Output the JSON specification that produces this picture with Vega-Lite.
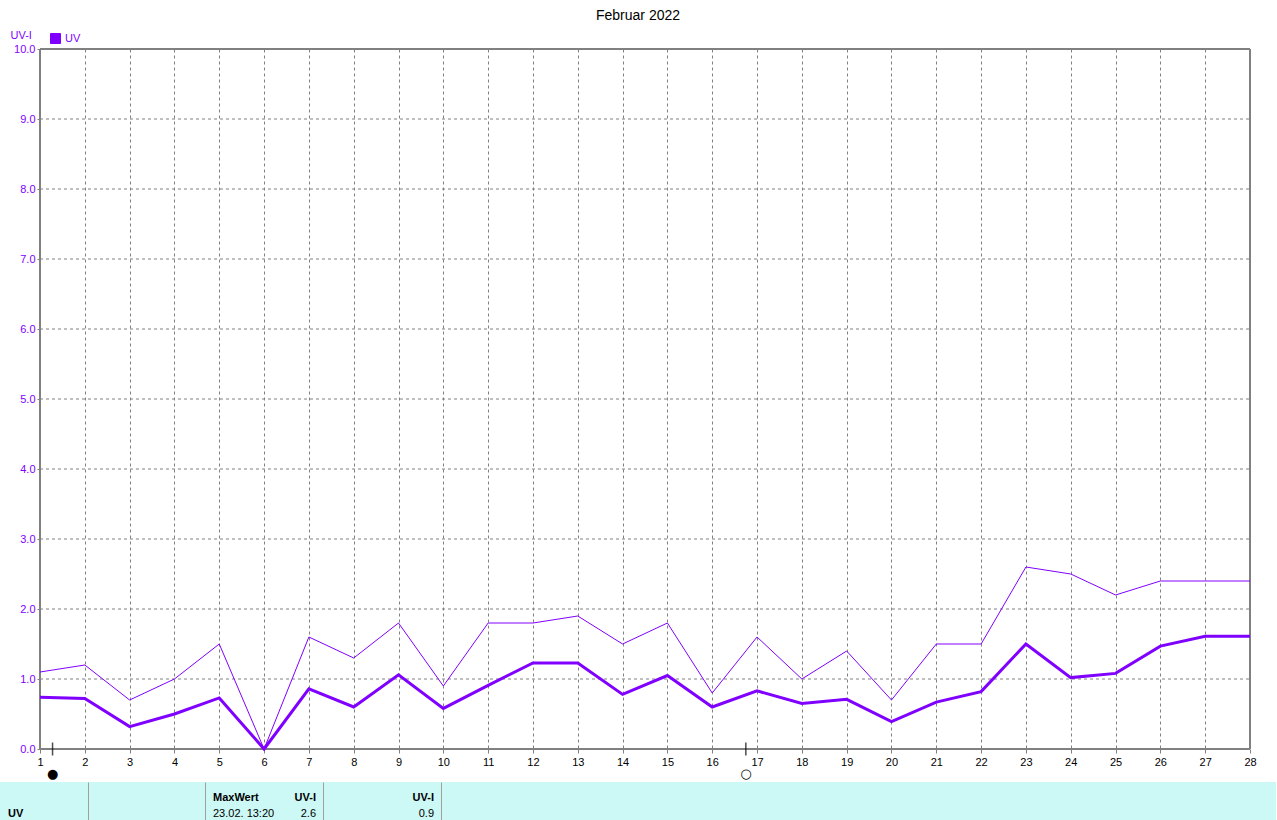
{
  "$schema": "https://vega.github.io/schema/vega-lite/v6.json",
  "padding": {"left": 0, "right": 0, "top": 9, "bottom": 0},
  "background": "white",
  "title": {"text": "Februar 2022", "fontSize": 14, "fontWeight": "normal", "font": "Liberation Sans", "color": "black", "anchor": "middle", "offset": 6},
  "spacing": 1,
  "config": {
    "font": "Liberation Sans",
    "view": {"stroke": null},
    "axisBottom": {"grid": true, "gridColor": "#808080", "gridDash": [3, 3], "gridOpacity": 1, "gridWidth": 1, "domain": false, "tickColor": "#808080", "tickSize": 4, "tickWidth": 1, "labelColor": "#000000", "labelFontSize": 11, "labelFont": "Liberation Sans", "labelPadding": 3, "labelFlush": false, "labelOverlap": false},
    "axisLeft": {"grid": false, "domain": false, "tickColor": "#808080", "tickSize": 3, "tickWidth": 1, "labelColor": "#8000ff", "labelFontSize": 11, "labelFont": "Liberation Sans", "labelPadding": 2, "labelFlush": false, "labelOverlap": false, "titleColor": "#8000ff", "titleFont": "Liberation Sans", "titleFontSize": 11, "titleFontWeight": "normal", "titleAngle": 0, "titleAlign": "left", "titleBaseline": "alphabetic", "titleX": -30, "titleY": -11},
    "axisRight": {"labels": false, "ticks": false, "grid": false, "domain": true, "domainColor": "#a0a0a0", "domainWidth": 1}
  },
  "datasets": {
    "uv": [
      {"day": 1, "max": 1.1, "mean": 0.74},
      {"day": 2, "max": 1.2, "mean": 0.72},
      {"day": 3, "max": 0.7, "mean": 0.32},
      {"day": 4, "max": 1.0, "mean": 0.5},
      {"day": 5, "max": 1.5, "mean": 0.73},
      {"day": 6, "max": 0.0, "mean": 0.0},
      {"day": 7, "max": 1.6, "mean": 0.86},
      {"day": 8, "max": 1.3, "mean": 0.6},
      {"day": 9, "max": 1.8, "mean": 1.06},
      {"day": 10, "max": 0.9, "mean": 0.58},
      {"day": 11, "max": 1.8, "mean": 0.91},
      {"day": 12, "max": 1.8, "mean": 1.23},
      {"day": 13, "max": 1.9, "mean": 1.23},
      {"day": 14, "max": 1.5, "mean": 0.78},
      {"day": 15, "max": 1.8, "mean": 1.05},
      {"day": 16, "max": 0.8, "mean": 0.6},
      {"day": 17, "max": 1.6, "mean": 0.83},
      {"day": 18, "max": 1.0, "mean": 0.65},
      {"day": 19, "max": 1.4, "mean": 0.71},
      {"day": 20, "max": 0.7, "mean": 0.39},
      {"day": 21, "max": 1.5, "mean": 0.67},
      {"day": 22, "max": 1.5, "mean": 0.82},
      {"day": 23, "max": 2.6, "mean": 1.5},
      {"day": 24, "max": 2.5, "mean": 1.02},
      {"day": 25, "max": 2.2, "mean": 1.08},
      {"day": 26, "max": 2.4, "mean": 1.47},
      {"day": 27, "max": 2.4, "mean": 1.61},
      {"day": 28, "max": 2.4, "mean": 1.61}
    ],
    "ygrid": [{"v": 1}, {"v": 2}, {"v": 3}, {"v": 4}, {"v": 5}, {"v": 6}, {"v": 7}, {"v": 8}, {"v": 9}],
    "hframe": [{"v": 0}, {"v": 10}],
    "vframe": [{"d": 1}, {"d": 28}],
    "moon": [{"day": 1.28, "sym": "●"}, {"day": 16.75, "sym": "○"}],
    "table": [
      {"cell": 1, "row": "bottom", "col": "left", "kind": "label", "text": "UV"},
      {"cell": 3, "row": "top", "col": "left", "kind": "label", "text": "MaxWert"},
      {"cell": 3, "row": "bottom", "col": "left", "kind": "value", "text": "23.02.  13:20"},
      {"cell": 3, "row": "top", "col": "right", "kind": "label", "text": "UV-I"},
      {"cell": 3, "row": "bottom", "col": "right", "kind": "value", "text": "2.6"},
      {"cell": 4, "row": "top", "col": "right", "kind": "label", "text": "UV-I"},
      {"cell": 4, "row": "bottom", "col": "right", "kind": "value", "text": "0.9"}
    ]
  },
  "vconcat": [
    {
      "width": 1250,
      "height": 700,
      "layer": [
        {
          "data": {"name": "ygrid"},
          "mark": {"type": "rule", "color": "#808080", "strokeDash": [3, 3], "strokeWidth": 1},
          "encoding": {
            "x": {"datum": 1, "type": "quantitative", "scale": {"domain": [0.10744, 28], "nice": false, "zero": false}, "axis": {"values": [1,2,3,4,5,6,7,8,9,10,11,12,13,14,15,16,17,18,19,20,21,22,23,24,25,26,27,28], "title": null}},
            "x2": {"datum": 28},
            "y": {"field": "v", "type": "quantitative", "scale": {"domain": [0, 10], "nice": false, "zero": false}, "axis": {"values": [0,1,2,3,4,5,6,7,8,9,10], "format": ".1f", "title": "UV-I", "offset": -40}}
          }
        },
        {
          "data": {"name": "hframe"},
          "mark": {"type": "rule", "color": "#808080", "strokeWidth": 2},
          "encoding": {
            "x": {"datum": 1, "type": "quantitative"},
            "x2": {"datum": 28},
            "y": {"field": "v", "type": "quantitative"}
          }
        },
        {
          "data": {"name": "vframe"},
          "mark": {"type": "rule", "color": "#808080", "strokeWidth": 2},
          "encoding": {
            "x": {"field": "d", "type": "quantitative"},
            "y": {"datum": 0, "type": "quantitative"},
            "y2": {"datum": 10}
          }
        },
        {
          "data": {"name": "uv"},
          "mark": {"type": "line", "strokeWidth": 1},
          "encoding": {
            "x": {"field": "day", "type": "quantitative"},
            "y": {"field": "max", "type": "quantitative"},
            "color": {"datum": "UV", "type": "nominal", "scale": {"range": ["#8000ff"]}, "legend": {"orient": "none", "legendX": 50, "legendY": -16, "title": null, "symbolType": "square", "symbolSize": 100, "symbolFillColor": "#8000ff", "symbolStrokeColor": "#000000", "symbolStrokeWidth": 1, "labelColor": "#8000ff", "labelFontSize": 11, "labelFont": "Liberation Sans", "labelOffset": 4, "padding": 0}}
          }
        },
        {
          "data": {"name": "uv"},
          "mark": {"type": "line", "strokeWidth": 3},
          "encoding": {
            "x": {"field": "day", "type": "quantitative"},
            "y": {"field": "mean", "type": "quantitative"},
            "color": {"datum": "UV", "type": "nominal"}
          }
        },
        {
          "data": {"name": "moon"},
          "mark": {"type": "tick", "orient": "vertical", "color": "black", "size": 13, "thickness": 1.5},
          "encoding": {
            "x": {"field": "day", "type": "quantitative"},
            "y": {"datum": 0, "type": "quantitative"}
          }
        },
        {
          "data": {"name": "moon"},
          "mark": {"type": "text", "dy": 25, "fontSize": 13, "color": "black", "baseline": "middle", "font": "DejaVu Sans"},
          "encoding": {
            "x": {"field": "day", "type": "quantitative"},
            "y": {"datum": 0, "type": "quantitative"},
            "text": {"field": "sym"}
          }
        }
      ]
    },
    {
      "hconcat": [
        {
          "width": 88, "height": 38, "view": {"fill": "#ccf8f5", "stroke": null},
          "data": {"name": "table"},
          "transform": [{"filter": "datum.cell == 1"}],
          "encoding": {
            "x": {"field": "col", "type": "nominal", "scale": {"type": "point", "domain": ["left", "right"], "padding": 0}, "axis": null},
            "y": {"field": "row", "type": "nominal", "scale": {"type": "point", "domain": ["top", "bottom"], "padding": 0.6875, "align": 0.727}, "axis": null},
            "text": {"field": "text"}
          },
          "layer": [
            {"mark": {"type": "text", "align": "left", "dx": 8, "fontWeight": "bold", "fontSize": 11, "color": "black", "baseline": "middle"}}
          ]
        },
        {
          "width": 117, "height": 38, "view": {"fill": "#ccf8f5", "stroke": null},
          "data": {"name": "table"},
          "transform": [{"filter": "datum.cell == 2"}],
          "encoding": {
            "x": {"field": "col", "type": "nominal", "scale": {"type": "point", "domain": ["left", "right"], "padding": 0}, "axis": null},
            "y": {"field": "row", "type": "nominal", "scale": {"type": "point", "domain": ["top", "bottom"], "padding": 0.6875, "align": 0.727}, "axis": {"orient": "left", "labels": false, "ticks": false, "grid": false, "domain": true, "domainColor": "#a0a0a0", "domainWidth": 1, "title": null}},
            "text": {"field": "text"}
          },
          "layer": [
            {"mark": {"type": "text", "align": "left", "dx": 8, "fontSize": 11, "color": "black", "baseline": "middle"}}
          ]
        },
        {
          "width": 118, "height": 38, "view": {"fill": "#ccf8f5", "stroke": null},
          "data": {"name": "table"},
          "transform": [{"filter": "datum.cell == 3"}],
          "encoding": {
            "x": {"field": "col", "type": "nominal", "scale": {"type": "point", "domain": ["left", "right"], "padding": 0}, "axis": null},
            "y": {"field": "row", "type": "nominal", "scale": {"type": "point", "domain": ["top", "bottom"], "padding": 0.6875, "align": 0.727}, "axis": {"orient": "left", "labels": false, "ticks": false, "grid": false, "domain": true, "domainColor": "#a0a0a0", "domainWidth": 1, "title": null}},
            "text": {"field": "text"}
          },
          "layer": [
            {"transform": [{"filter": "datum.col == 'left' && datum.kind == 'label'"}], "mark": {"type": "text", "align": "left", "dx": 8, "fontWeight": "bold", "fontSize": 11, "color": "black", "baseline": "middle"}},
            {"transform": [{"filter": "datum.col == 'left' && datum.kind == 'value'"}], "mark": {"type": "text", "align": "left", "dx": 8, "fontSize": 11, "color": "black", "baseline": "middle"}},
            {"transform": [{"filter": "datum.col == 'right' && datum.kind == 'label'"}], "mark": {"type": "text", "align": "right", "dx": -7, "fontWeight": "bold", "fontSize": 11, "color": "black", "baseline": "middle"}},
            {"transform": [{"filter": "datum.col == 'right' && datum.kind == 'value'"}], "mark": {"type": "text", "align": "right", "dx": -7, "fontSize": 11, "color": "black", "baseline": "middle"}}
          ]
        },
        {
          "width": 118, "height": 38, "view": {"fill": "#ccf8f5", "stroke": null},
          "data": {"name": "table"},
          "transform": [{"filter": "datum.cell == 4"}],
          "encoding": {
            "x": {"field": "col", "type": "nominal", "scale": {"type": "point", "domain": ["left", "right"], "padding": 0}, "axis": null},
            "y": {"field": "row", "type": "nominal", "scale": {"type": "point", "domain": ["top", "bottom"], "padding": 0.6875, "align": 0.727}, "axis": {"orient": "left", "labels": false, "ticks": false, "grid": false, "domain": true, "domainColor": "#a0a0a0", "domainWidth": 1, "title": null}},
            "text": {"field": "text"}
          },
          "layer": [
            {"transform": [{"filter": "datum.kind == 'label'"}], "mark": {"type": "text", "align": "right", "dx": -7, "fontWeight": "bold", "fontSize": 11, "color": "black", "baseline": "middle"}},
            {"transform": [{"filter": "datum.kind == 'value'"}], "mark": {"type": "text", "align": "right", "dx": -7, "fontSize": 11, "color": "black", "baseline": "middle"}}
          ]
        },
        {
          "width": 835, "height": 38, "view": {"fill": "#ccf8f5", "stroke": null},
          "data": {"name": "table"},
          "transform": [{"filter": "datum.cell == 5"}],
          "encoding": {
            "x": {"field": "col", "type": "nominal", "scale": {"type": "point", "domain": ["left", "right"], "padding": 0}, "axis": null},
            "text": {"field": "text"}
          },
          "layer": [
            {"mark": {"type": "text", "align": "left", "dx": 8, "fontSize": 11, "color": "black", "baseline": "middle"},
             "encoding": {"y": {"field": "row", "type": "nominal", "scale": {"type": "point", "domain": ["top", "bottom"], "padding": 0.6875, "align": 0.727}, "axis": {"orient": "left", "labels": false, "ticks": false, "grid": false, "domain": true, "domainColor": "#a0a0a0", "domainWidth": 1, "title": null}}}},
            {"mark": {"type": "text", "align": "left", "dx": 8, "fontSize": 11, "color": "black", "baseline": "middle"},
             "encoding": {"y": {"field": "row", "type": "nominal", "scale": {"type": "point", "domain": ["top", "bottom"], "padding": 0.6875, "align": 0.727}, "axis": {"orient": "right", "labels": false, "ticks": false, "grid": false, "domain": true, "domainColor": "#a0a0a0", "domainWidth": 1, "title": null}}}}
          ],
          "resolve": {"axis": {"y": "independent"}}
        }
      ],
      "spacing": 0,
      "bounds": "flush"
    }
  ]
}
